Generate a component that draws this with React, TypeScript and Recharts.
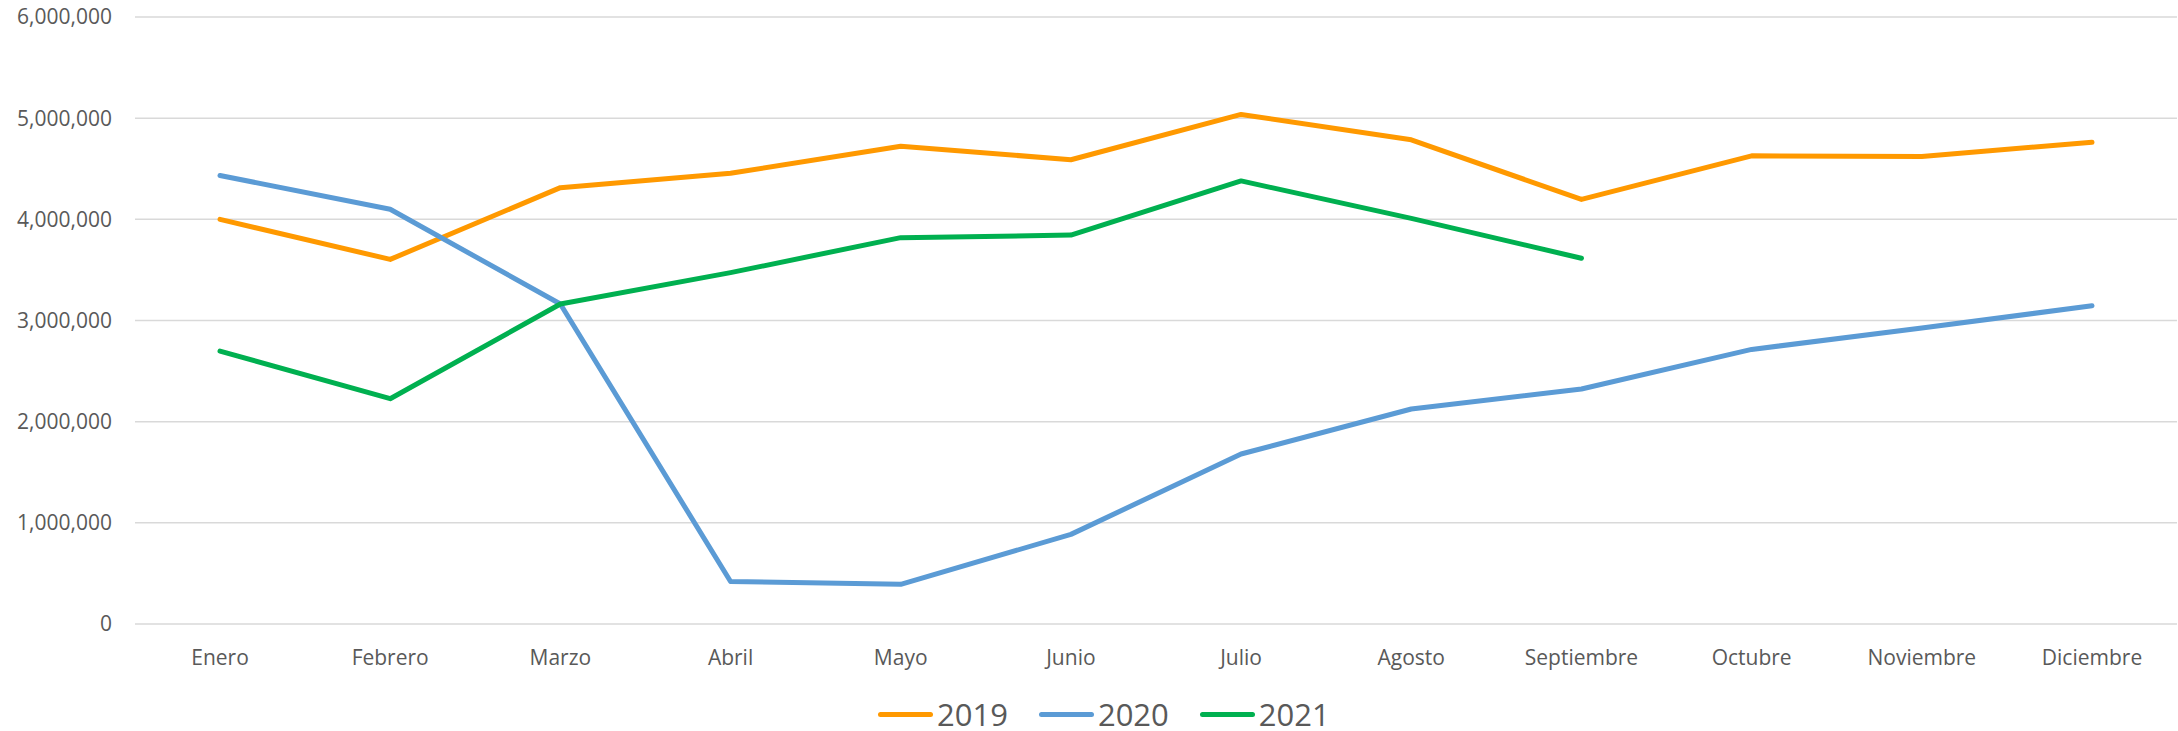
import * as React from 'react';
import { CartesianGrid, Legend, Line, LineChart, XAxis, YAxis } from 'recharts';

const months = ['Enero', 'Febrero', 'Marzo', 'Abril', 'Mayo', 'Junio', 'Julio', 'Agosto', 'Septiembre', 'Octubre', 'Noviembre', 'Diciembre'];

const v2019 = [4000000, 3604000, 4313000, 4455000, 4723000, 4589000, 5037000, 4786000, 4197000, 4628000, 4621000, 4762000];
const v2020 = [4433000, 4100000, 3163000, 420000, 392000, 886000, 1680000, 2125000, 2323000, 2714000, 2926000, 3145000];
const v2021 = [2697000, 2227000, 3163000, 3473000, 3819000, 3844000, 4380000, 4010000, 3615000, null, null, null];

const yTicks = [0, 1000000, 2000000, 3000000, 4000000, 5000000, 6000000];

const series = [
  { key: 'y2019', name: '2019', color: '#FF9900' },
  { key: 'y2020', name: '2020', color: '#5B9BD5' },
  { key: 'y2021', name: '2021', color: '#00B050' },
];

const data = months.map((m, i) => ({ month: m, y2019: v2019[i], y2020: v2020[i], y2021: v2021[i] }));

const font = '"Open Sans", "Noto Sans", sans-serif';
const textColor = '#595959';

function LegendContent() {
  return (
    <div style={{ height: 47, display: 'flex', alignItems: 'center', paddingLeft: 878, paddingTop: 13, boxSizing: 'border-box', fontFamily: font }}>
      {series.map((s) => (
        <div key={s.key} style={{ display: 'flex', alignItems: 'center', marginRight: 31 }}>
          <span style={{ display: 'inline-block', width: 55, height: 5, borderRadius: 3, background: s.color, marginRight: 4 }} />
          <span style={{ fontSize: 31, color: textColor, lineHeight: '30px' }}>{s.name}</span>
        </div>
      ))}
    </div>
  );
}

export default function App() {
  return (
    <div style={{ position: 'absolute', left: 0, top: 0, background: '#fff' }}>
      <LineChart width={2178} height={731} data={data} margin={{ top: 17, right: 1, bottom: 0, left: 0 }}>
        <CartesianGrid vertical={false} stroke="#D9D9D9" strokeWidth={1.5} />
        <XAxis
          dataKey="month"
          axisLine={false}
          tickLine={false}
          tickSize={0}
          tickMargin={26}
          height={60}
          padding={{ left: 85, right: 85 }}
          interval={0}
          tick={{ fontSize: 21, fill: textColor, fontFamily: font }}
        />
        <YAxis
          width={135}
          domain={[0, 6000000]}
          ticks={yTicks}
          axisLine={false}
          tickLine={false}
          tickSize={0}
          tickMargin={23}
          tickFormatter={(v: number) => v.toLocaleString('en-US')}
          tick={{ fontSize: 21, fill: textColor, fontFamily: font }}
        />
        <Legend verticalAlign="bottom" height={47} content={() => <LegendContent />} />
        {series.map((s) => (
          <Line
            key={s.key}
            type="linear"
            dataKey={s.key}
            name={s.name}
            stroke={s.color}
            strokeWidth={5}
            strokeLinecap="round"
            strokeLinejoin="round"
            dot={false}
            activeDot={false}
            isAnimationActive={false}
          />
        ))}
      </LineChart>
    </div>
  );
}
